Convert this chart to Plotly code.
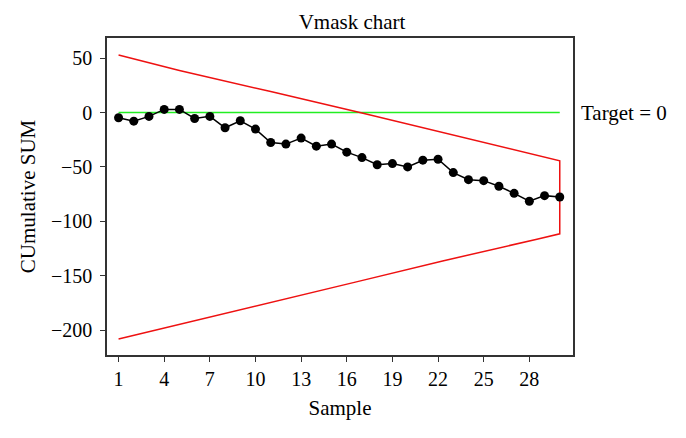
import plotly.graph_objects as go

samples = list(range(1, 31))
cusum = [-4.8, -7.9, -3.5, 2.9, 2.9, -5.4, -3.5, -14.0, -7.5, -15.2,
         -27.5, -29.0, -23.5, -30.9, -29.0, -36.4, -41.4, -48.0, -46.9, -50.0,
         -43.8, -42.9, -55.2, -61.7, -62.6, -67.8, -74.3, -81.6, -76.4, -77.7]

mask_x = [1, 5, 11, 17, 30]
upper = [53.0, 38.8, 19.3, -0.3, -44.4]
lower_x = [1, 4, 10.5, 16.7, 22.3, 28.5, 30]
lower = [-208.3, -198.5, -176.5, -155.5, -136.5, -116.5, -111.5]

target = 0
x_ticks = [1, 4, 7, 10, 13, 16, 19, 22, 25, 28]
y_ticks = [50, 0, -50, -100, -150, -200]

FONT = "Liberation Serif"

fig = go.Figure()
fig.add_trace(go.Scatter(x=[1, 30], y=[target, target], mode="lines",
                         line=dict(color="#22ee22", width=1.5), hoverinfo="skip"))
vx = mask_x + lower_x[::-1]
vy = upper + lower[::-1]
fig.add_trace(go.Scatter(x=vx, y=vy, mode="lines",
                         line=dict(color="#ee1111", width=1.5)))
fig.add_trace(go.Scatter(x=samples, y=cusum, mode="lines+markers",
                         line=dict(color="black", width=1.5),
                         marker=dict(color="black", size=9)))

fig.add_annotation(x=1.0, xref="paper", xanchor="left", xshift=6,
                   y=target, yref="y", text="Target = 0", showarrow=False,
                   font=dict(family=FONT, size=21, color="black"))

fig.update_layout(
    width=686, height=438,
    margin=dict(l=107, r=113, t=38, b=83),
    paper_bgcolor="white", plot_bgcolor="white",
    showlegend=False,
    font=dict(family=FONT, size=20, color="black"),
    title=dict(text="Vmask chart", x=352 / 686, xanchor="center",
               y=1 - 22 / 438, yanchor="middle",
               font=dict(family=FONT, size=21, color="black")),
    xaxis=dict(range=[0.24, 30.87], tickvals=x_ticks, ticks="outside",
               ticklen=5, tickcolor="#333", showgrid=False, zeroline=False,
               showline=True, linecolor="#333", linewidth=1.5, mirror=True,
               tickfont=dict(family=FONT, size=20),
               title=dict(text="Sample", standoff=12,
                          font=dict(family=FONT, size=21))),
    yaxis=dict(range=[-223.0, 68.6], tickvals=y_ticks, ticks="outside",
               ticklen=5, tickcolor="#333", showgrid=False, zeroline=False,
               showline=True, linecolor="#333", linewidth=1.5, mirror=True,
               tickfont=dict(family=FONT, size=20), ticklabelstandoff=4,
               title=dict(text="CUmulative SUM", standoff=10,
                          font=dict(family=FONT, size=21))),
)

fig.write_html("out.html")
